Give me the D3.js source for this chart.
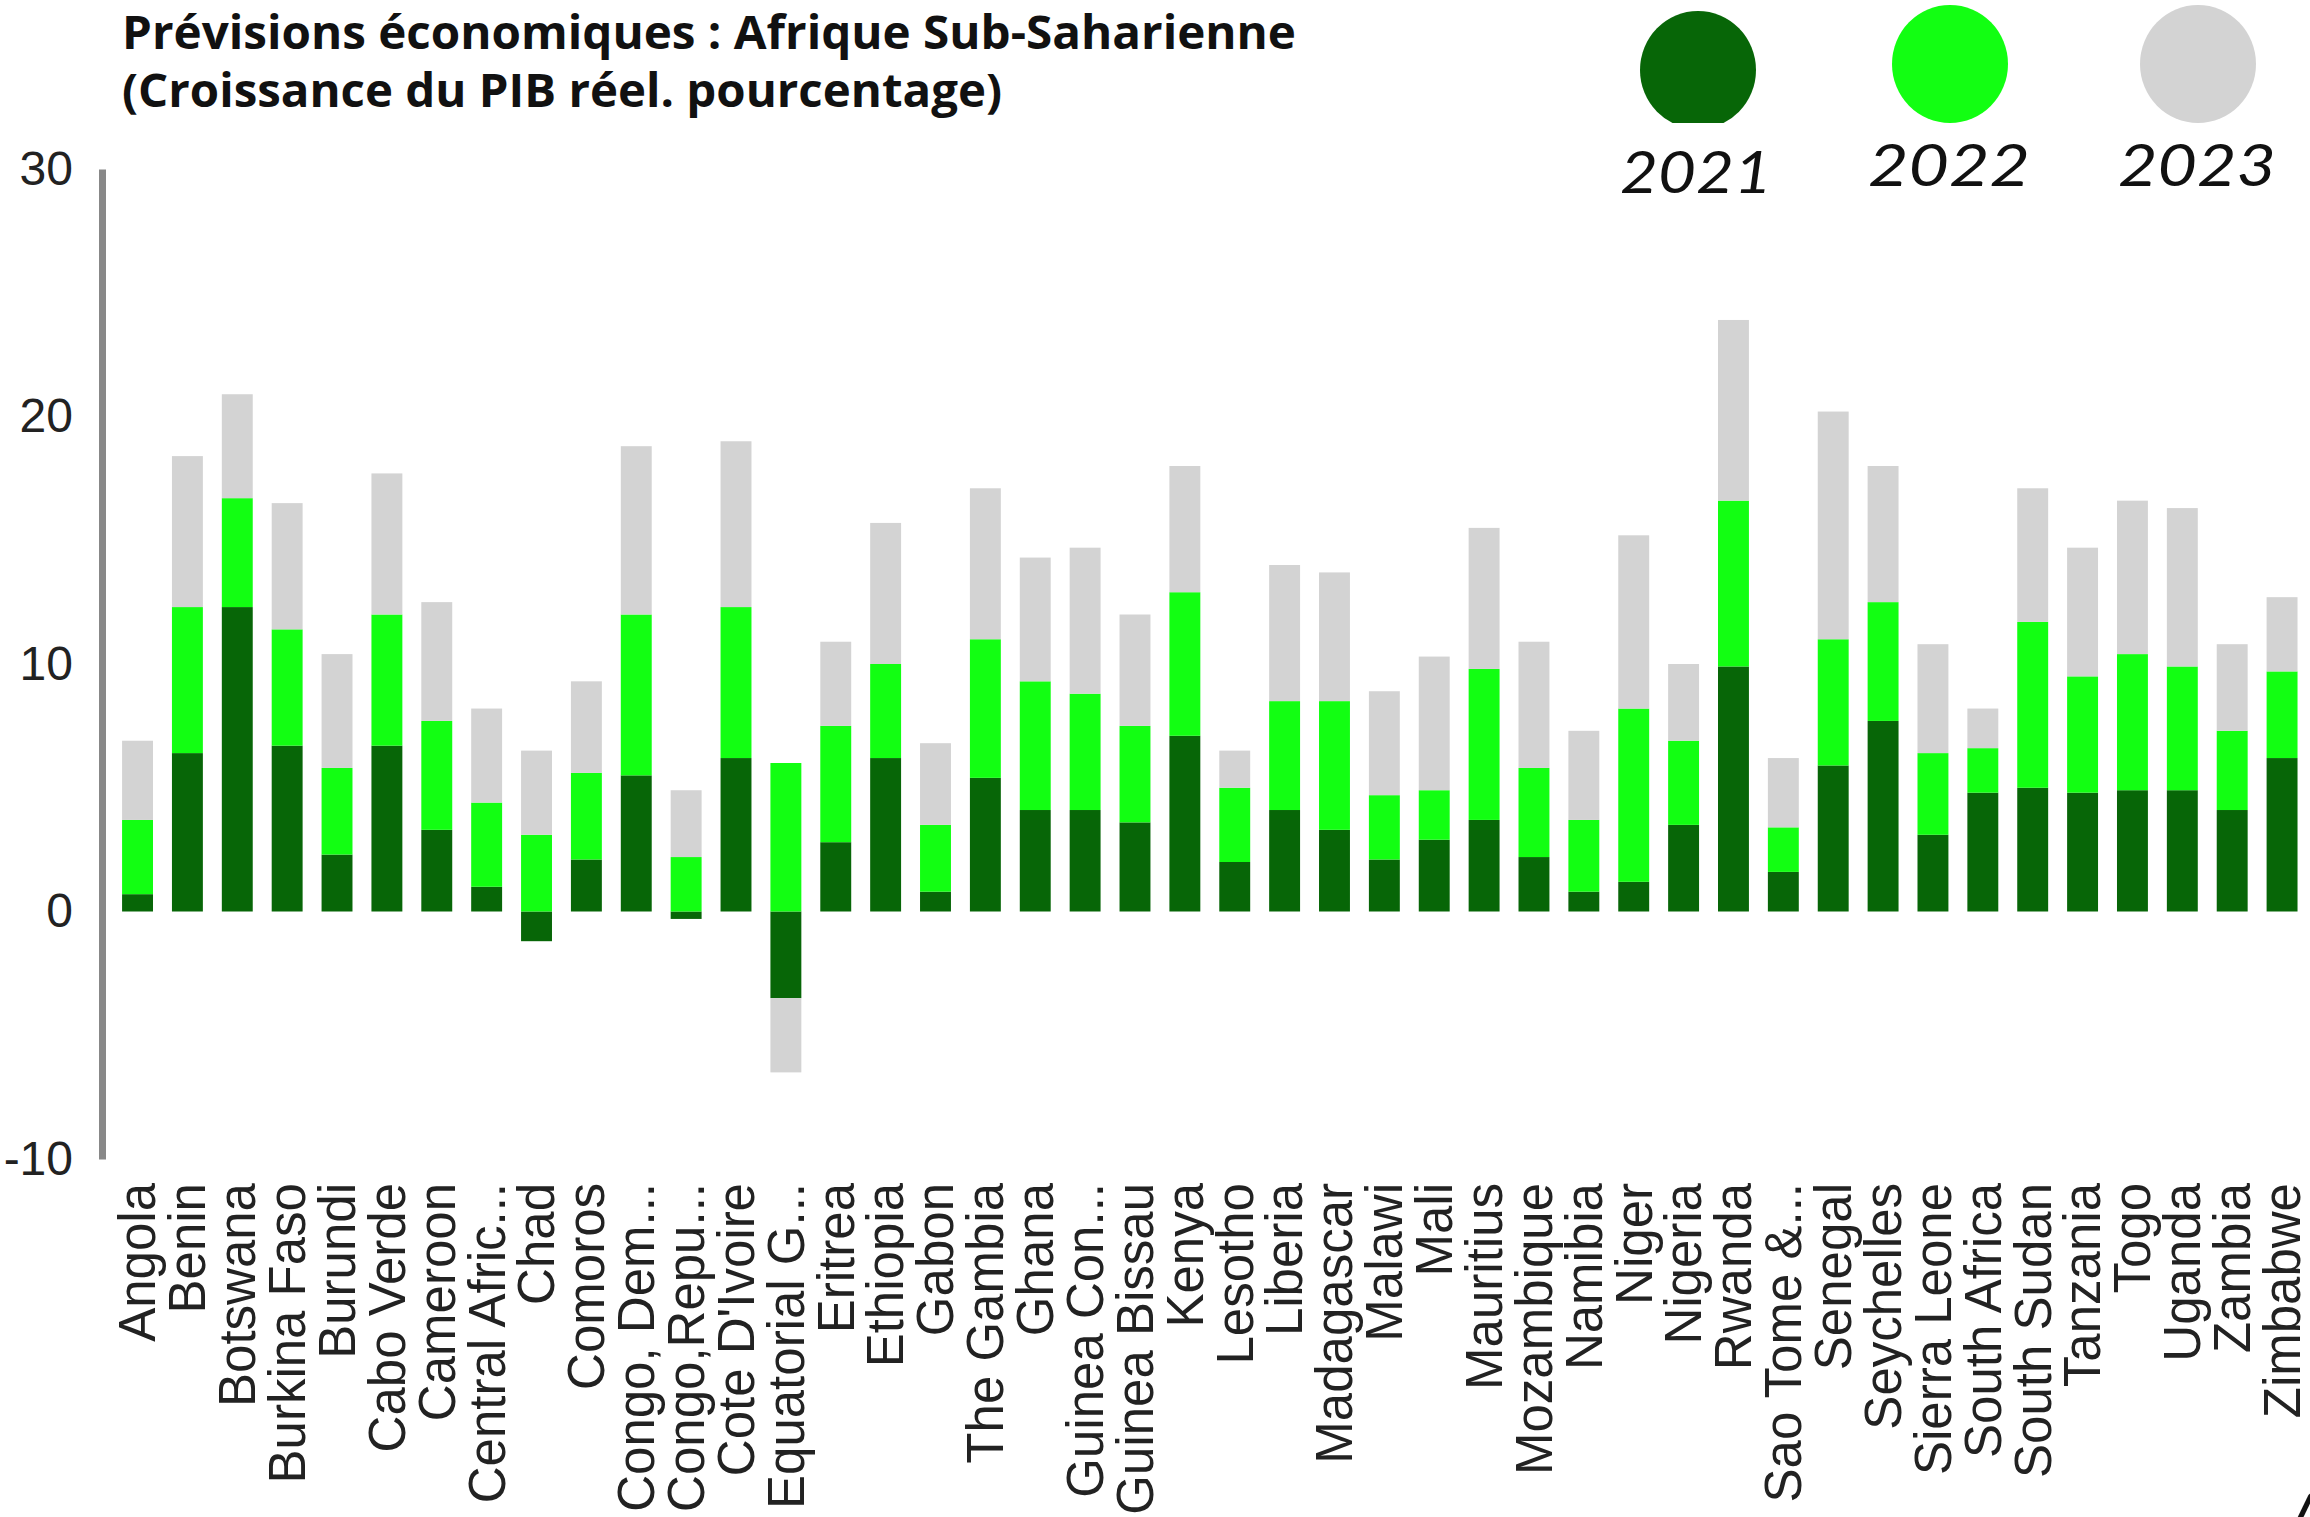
<!DOCTYPE html>
<html>
<head>
<meta charset="utf-8">
<script src="https://cdn.jsdelivr.net/npm/d3@7"></script>
<style>
  body { margin: 0; background: #fff; }
  svg { display: block; }
</style>
</head>
<body>
<svg id="chart" width="2310" height="1517"></svg>
<script>
// pays (libellés tels qu'affichés, tronqués)
var countries = ["Angola","Benin","Botswana","Burkina Faso","Burundi","Cabo Verde","Cameroon","Central Afric...",
  "Chad","Comoros","Congo, Dem...","Congo,Repu...","Cote D'Ivoire","Equatorial G...","Eritrea","Ethiopia",
  "Gabon","The Gambia","Ghana","Guinea Con...","Guinea Bissau","Kenya","Lesotho","Liberia","Madagascar",
  "Malawi","Mali","Mauritius","Mozambique","Namibia","Niger","Nigeria","Rwanda","Sao Tome &...","Senegal",
  "Seychelles","Sierra Leone","South Africa","South Sudan","Tanzania","Togo","Uganda","Zambia","Zimbabwe"];

var years = ["2021", "2022", "2023"];

var g2021 = [0.7, 6.4, 12.3, 6.7, 2.3, 6.7, 3.3, 1.0, -1.2, 2.1, 5.5, -0.3, 6.2, -3.5, 2.8, 6.2,
  0.8, 5.4, 4.1, 4.1, 3.6, 7.1, 2.0, 4.1, 3.3, 2.1, 2.9, 3.7, 2.2, 0.8, 1.2, 3.5, 9.9, 1.6, 5.9,
  7.7, 3.1, 4.8, 5.0, 4.8, 4.9, 4.9, 4.1, 6.2];
var g2022 = [3.0, 5.9, 4.4, 4.7, 3.5, 5.3, 4.4, 3.4, 3.1, 3.5, 6.5, 2.2, 6.1, 6.0, 4.7, 3.8,
  2.7, 5.6, 5.2, 4.7, 3.9, 5.8, 3.0, 4.4, 5.2, 2.6, 2.0, 6.1, 3.6, 2.9, 7.0, 3.4, 6.7, 1.8, 5.1,
  4.8, 3.3, 1.8, 6.7, 4.7, 5.5, 5.0, 3.2, 3.5];
var g2023 = [3.2, 6.1, 4.2, 5.1, 4.6, 5.7, 4.8, 3.8, 3.4, 3.7, 6.8, 2.7, 6.7, -3.0, 3.4, 5.7,
  3.3, 6.1, 5.0, 5.9, 4.5, 5.1, 1.5, 5.5, 5.2, 4.2, 5.4, 5.7, 5.1, 3.6, 7.0, 3.1, 7.3, 2.8, 9.2,
  5.5, 4.4, 1.6, 5.4, 5.2, 6.2, 6.4, 3.5, 3.0];

var yTicks = [-10, 0, 10, 20, 30];
var colors = ["#076607", "#12ff12", "#d3d3d3"];

var table = countries.map(function(c, i) {
  return {country: c, "2021": g2021[i], "2022": g2022[i], "2023": g2023[i]};
});

var svg = d3.select("#chart");

var x = d3.scaleBand()
    .domain(countries)
    .range([112.6, 2307])
    .paddingInner(0.38)
    .paddingOuter(0.19);

var y = d3.scaleLinear()
    .domain([-10, 30])
    .range([1159, 169]);

var color = d3.scaleOrdinal().domain(years).range(colors);

var series = d3.stack()
    .keys(years)
    .offset(d3.stackOffsetDiverging)(table);

// barres empilées
svg.append("g").selectAll("g")
  .data(series)
  .enter().append("g")
    .attr("fill", function(d) { return color(d.key); })
  .selectAll("rect")
  .data(function(d) { return d; })
  .enter().append("rect")
    .attr("x", function(d) { return x(d.data.country); })
    .attr("width", x.bandwidth())
    .attr("y", function(d) { return y(Math.max(d[0], d[1])); })
    .attr("height", function(d) { return Math.abs(y(d[0]) - y(d[1])); });

// axe vertical
var yAxis = svg.append("g")
    .attr("transform", "translate(102,0)")
    .call(d3.axisLeft(y).tickValues(yTicks).tickSize(0).tickSizeOuter(0).tickPadding(29)
      .tickFormat(function(d) { return String(d); }));
yAxis.select(".domain").attr("stroke", "#888").attr("stroke-width", 7);
yAxis.selectAll("text")
    .attr("font-family", "'Liberation Sans', Arial, sans-serif")
    .attr("font-size", 48)
    .attr("fill", "#222");

// libellés des pays
svg.append("g").selectAll("text")
  .data(countries)
  .enter().append("text")
    .attr("transform", function(d) {
      return "translate(" + (x(d) + x.bandwidth() / 2) + ",1183) rotate(-90)";
    })
    .attr("dy", "0.35em")
    .attr("text-anchor", "end")
    .attr("font-family", "'Liberation Sans', Arial, sans-serif")
    .attr("font-size", 51)
    .attr("fill", "#222")
    .text(function(d) { return d; });

// titre
var title = svg.append("g")
    .attr("font-family", "'Open Sans', 'Noto Sans', sans-serif")
    .attr("font-weight", "bold")
    .attr("font-size", 47)
    .attr("fill", "#111");
title.append("text").attr("x", 122).attr("y", 49)
    .attr("textLength", 1174).attr("lengthAdjust", "spacingAndGlyphs")
    .text("Prévisions économiques : Afrique Sub-Saharienne");
title.append("text").attr("x", 122).attr("y", 107)
    .attr("textLength", 880).attr("lengthAdjust", "spacingAndGlyphs")
    .text("(Croissance du PIB réel. pourcentage)");

// légende
var legendPos = [
  {cx: 1698, cy: 70, tx: 1620, ty: 193, tw: 152},
  {cx: 1950, cy: 64, tx: 1868, ty: 186, tw: 162},
  {cx: 2198, cy: 64, tx: 2118, ty: 186, tw: 158}
];

svg.append("clipPath").attr("id", "legclip")
  .append("rect").attr("x", 1600).attr("y", 0).attr("width", 710).attr("height", 123);

var legend = svg.append("g");
legend.selectAll("ellipse")
  .data(years)
  .enter().append("ellipse")
    .attr("clip-path", "url(#legclip)")
    .attr("cx", function(d, i) { return legendPos[i].cx; })
    .attr("cy", function(d, i) { return legendPos[i].cy; })
    .attr("rx", 58)
    .attr("ry", 59)
    .attr("fill", function(d) { return color(d); });

legend.selectAll("text")
  .data(years)
  .enter().append("text")
    .attr("x", function(d, i) { return legendPos[i].tx; })
    .attr("y", function(d, i) { return legendPos[i].ty; })
    .attr("textLength", function(d, i) { return legendPos[i].tw; })
    .attr("lengthAdjust", "spacingAndGlyphs")
    .attr("font-family", "Lato, 'Open Sans', sans-serif")
    .attr("font-style", "italic")
    .attr("font-size", 58)
    .attr("fill", "#111")
    .text(function(d) { return d; });

// fragment de texte coupé en bas à droite
svg.append("text")
    .attr("x", 2288).attr("y", 1536)
    .attr("font-family", "Lato, sans-serif")
    .attr("font-style", "italic")
    .attr("font-weight", "bold")
    .attr("font-size", 60)
    .attr("fill", "#111")
    .text("/");
</script>
</body>
</html>
